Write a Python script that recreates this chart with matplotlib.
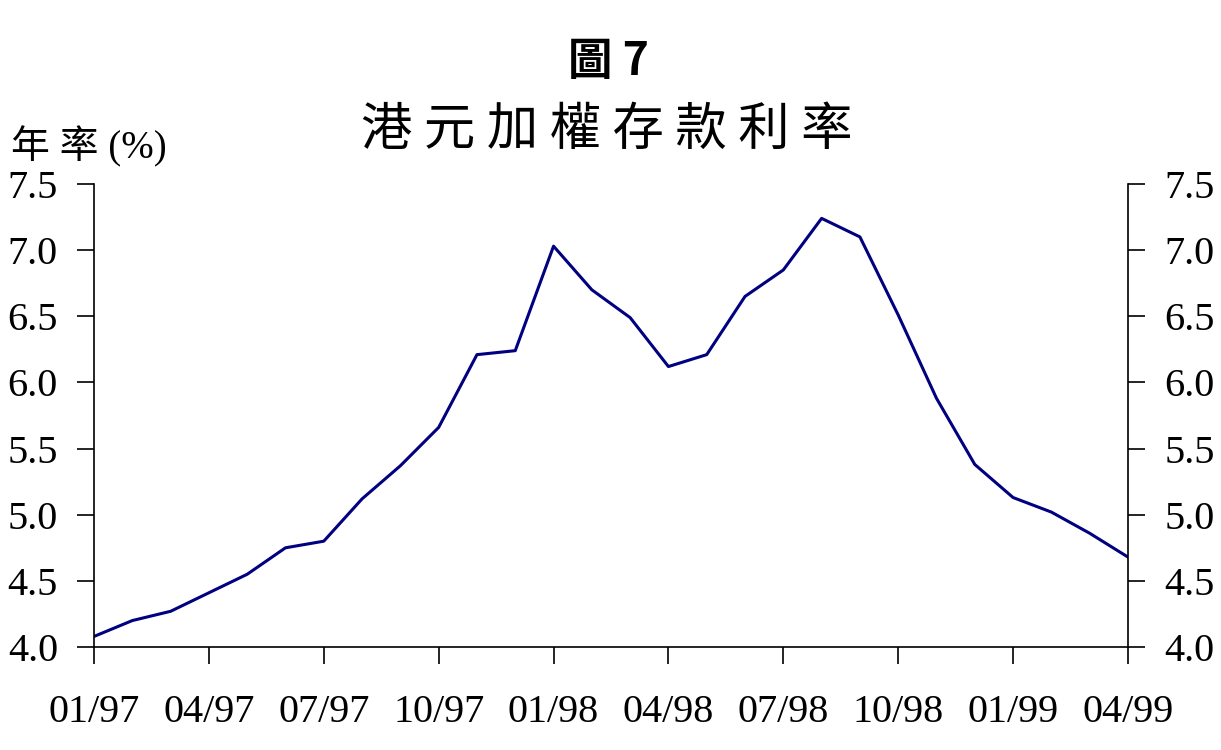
import numpy as np
import matplotlib.pyplot as plt

plt.rcParams['font.family'] = ['Liberation Serif', 'Noto Sans CJK TC']

months = ["01/97", "02/97", "03/97", "04/97", "05/97", "06/97", "07/97",
          "08/97", "09/97", "10/97", "11/97", "12/97", "01/98", "02/98",
          "03/98", "04/98", "05/98", "06/98", "07/98", "08/98", "09/98",
          "10/98", "11/98", "12/98", "01/99", "02/99", "03/99", "04/99"]
rate = [4.08, 4.20, 4.27, 4.41, 4.55, 4.75, 4.80, 5.12, 5.37, 5.66,
        6.21, 6.24, 7.03, 6.70, 6.49, 6.12, 6.21, 6.65, 6.85, 7.24,
        7.10, 6.51, 5.88, 5.38, 5.13, 5.02, 4.86, 4.68]
yticks = [4.0, 4.5, 5.0, 5.5, 6.0, 6.5, 7.0, 7.5]

x = np.arange(len(months))

fig = plt.figure(figsize=(12.21, 7.5), dpi=100)
ax = fig.add_axes([0.077, 0.1373, 0.8468, 0.6174])
ax.plot(x, rate, color="#000080", lw=2.2)

ax.set_xlim(0, len(months) - 1)
ax.set_ylim(4.0, 7.5)
ax.set_xticks(x[::3])
ax.set_xticklabels(months[::3], fontsize=29)
ax.set_yticks(yticks)
ax.set_yticklabels([f"{v:.1f}" for v in yticks], fontsize=29)
ax.tick_params(axis="x", direction="out", length=12, width=1.2, pad=22)
ax.tick_params(axis="y", direction="out", length=12, width=1.2, pad=14,
               labelleft=True, labelright=True, left=True, right=True)
ax.spines["top"].set_visible(False)
for s in ["left", "right", "bottom"]:
    ax.spines[s].set_linewidth(1.2)

fig.text(0.498, 0.917, "圖 7", ha="center", va="center", fontsize=32,
         fontweight="bold", family=["Noto Sans CJK TC"])
fig.text(0.497, 0.826, "港 元 加 權 存 款 利 率", ha="center", va="center",
         fontsize=37, family=["Noto Sans CJK TC"])
fig.text(0.009, 0.805, "年 率 (%)", ha="left", va="center", fontsize=28)

fig.savefig("out.png", dpi=100)
